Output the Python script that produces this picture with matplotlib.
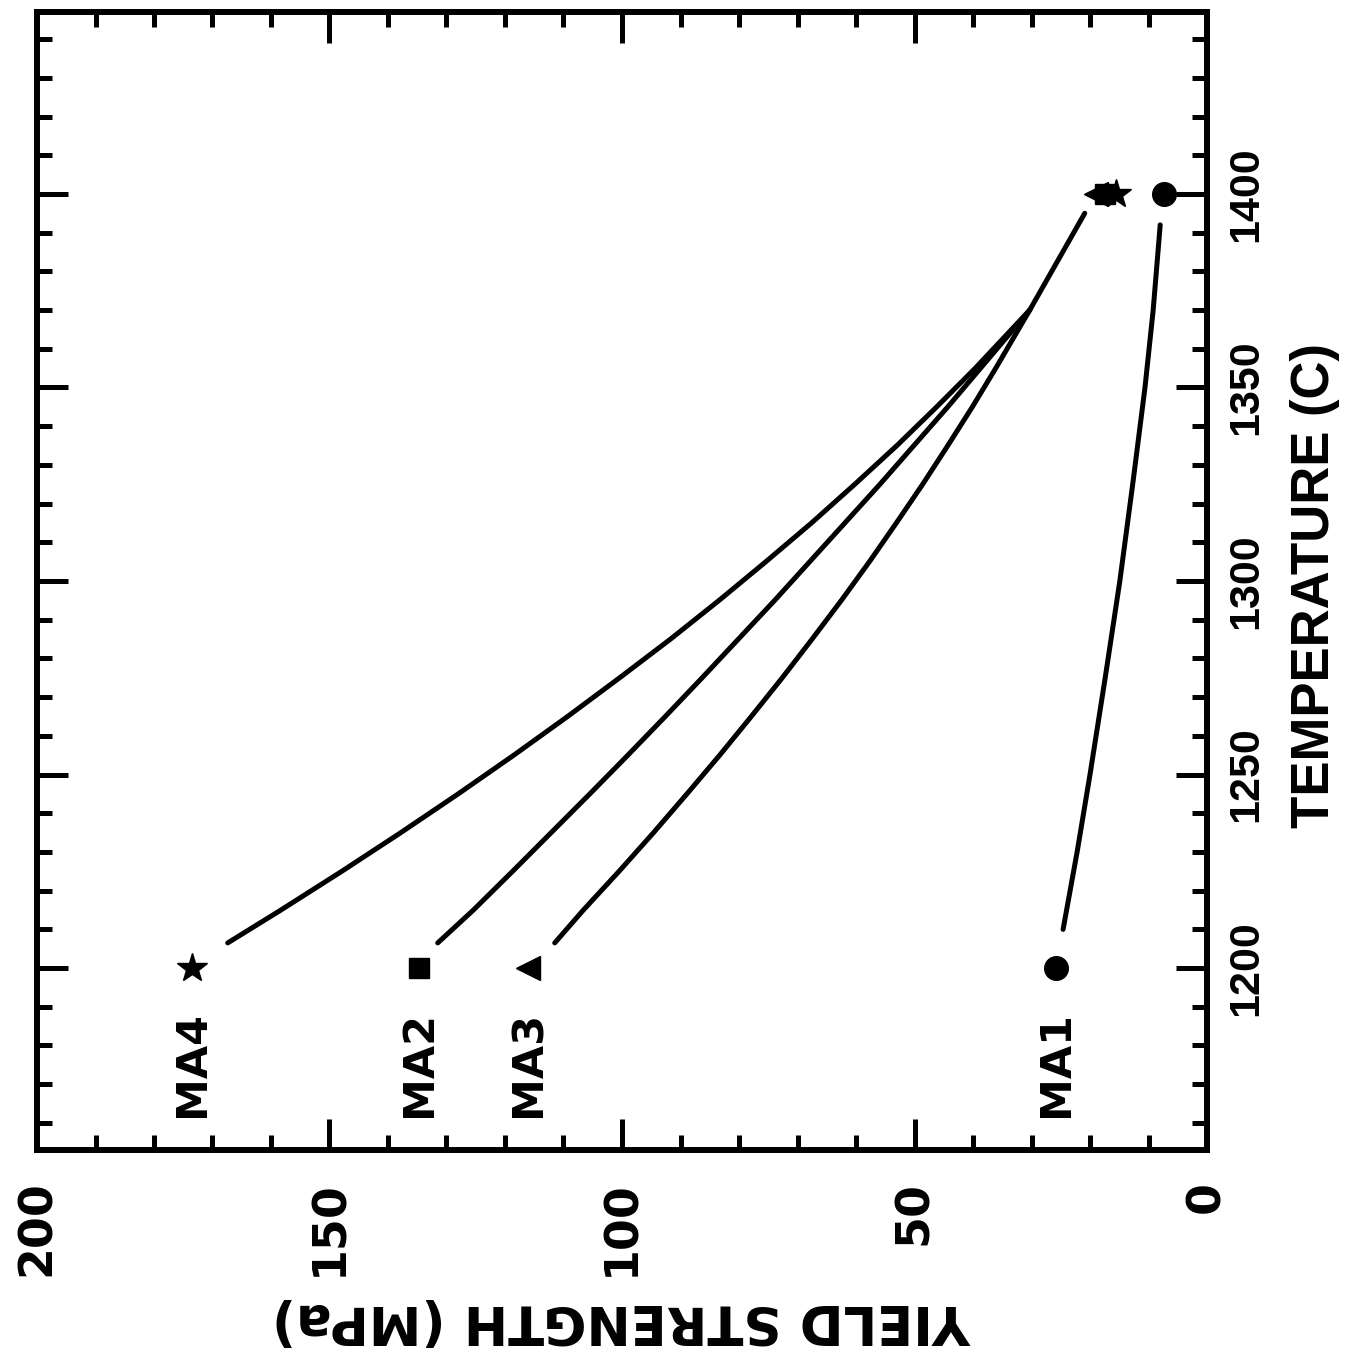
import matplotlib
matplotlib.use("Agg")
import matplotlib.pyplot as plt

# rotated chart: strength runs along x (200 -> 0), temperature along y
names = ["MA4", "MA2", "MA3", "MA1"]
markers = ["*", "s", "<", "o"]
temp_pts = [1200, 1400]
strength_1200 = [173.5, 134.7, 116.0, 25.8]
strength_1400 = [15.5, 17.5, 19.0, 7.4]

# fitted curves (temperature, strength)
t_long = [1206.5, 1215, 1225, 1235, 1245, 1255, 1265, 1275, 1285, 1295,
          1305, 1315, 1325, 1335, 1345, 1355, 1370]
curve_t = {
    "MA4": t_long,
    "MA2": t_long,
    "MA3": t_long,
    "MA1": [1210, 1230, 1250, 1275, 1300, 1325, 1350, 1370, 1392],
}
curve_s = {
    "MA4": [167.4, 158.3, 147.9, 137.8, 128.0, 118.5, 109.3, 100.4, 91.7, 83.4,
            75.4, 67.6, 60.2, 53.0, 46.2, 39.6, 30.3],
    "MA2": [131.5, 125.4, 118.7, 112.1, 105.5, 99.0, 92.6, 86.3, 80.1, 73.9,
            67.9, 61.9, 55.9, 50.1, 44.3, 38.7, 30.3],
    "MA3": [111.5, 106.6, 100.5, 94.6, 88.9, 83.3, 77.9, 72.6, 67.5, 62.5,
            57.7, 53.1, 48.6, 44.3, 40.1, 36.1, 30.3],
    "MA1": [24.6, 22.2, 20.0, 17.4, 14.9, 12.7, 10.6, 9.2, 8.0],
}
tail_t = [1370, 1395]
tail_s = [30.3, 20.9]

fig = plt.figure(figsize=(13.6, 13.61), dpi=100)
ax = fig.add_axes([37/1360, 1 - 1150/1361, 1170/1360, 1138/1361])

lw = 3.6
for n in names:
    ax.plot(curve_s[n], curve_t[n], color="black", lw=lw,
            solid_capstyle="round", solid_joinstyle="round")
ax.plot(tail_s, tail_t, color="black", lw=lw, solid_capstyle="round")

sizes = {"*": 22, "s": 15, "<": 17, "o": 17}
for n, m, a, b in zip(names, markers, strength_1200, strength_1400):
    ax.plot([a, b], temp_pts, ls="none", marker=m, ms=sizes[m], color="black")

# MA labels below the 1200 markers
for n, s in zip(names, strength_1200):
    ax.text(s, 1189, n, rotation=90, ha="center", va="top",
            fontsize=31, fontweight="bold", family="DejaVu Sans")

ax.set_xlim(200, 0)
ax.set_ylim(1153, 1447)

ax.set_xticks([200, 150, 100, 50, 0])
ax.set_xticks(range(0, 201, 10), minor=True)
ax.set_yticks([1200, 1250, 1300, 1350, 1400])
ax.set_yticks(range(1160, 1450, 10), minor=True)
ax.tick_params(which="both", direction="in", top=True, right=True, width=3.6,
               labelleft=False, labelright=True)
ax.tick_params(which="major", length=22)
ax.tick_params(which="minor", length=11)
ax.tick_params(axis="x", pad=22)
ax.tick_params(axis="y", pad=14)

for lab in ax.get_xticklabels():
    lab.set_rotation(90)
    lab.set_fontsize(33)
    lab.set_fontweight("bold")
    lab.set_va("top")
for lab in ax.get_yticklabels():
    lab.set_rotation(90)
    lab.set_fontsize(31)
    lab.set_fontweight("bold")
    lab.set_family("Liberation Sans")
    lab.set_ha("left")
    lab.set_va("center")

for sp in ax.spines.values():
    sp.set_linewidth(4.3)

fig.text(1315/1360, 1 - 585/1361, "TEMPERATURE (C)", rotation=90,
         ha="center", va="center", fontsize=38, fontweight="bold",
         family="Liberation Sans")
fig.text(622/1360, 1 - 1320/1361, "YIELD STRENGTH (MPa)", rotation=180,
         ha="center", va="center", fontsize=38, fontweight="bold")

fig.savefig("out.png", dpi=100)
